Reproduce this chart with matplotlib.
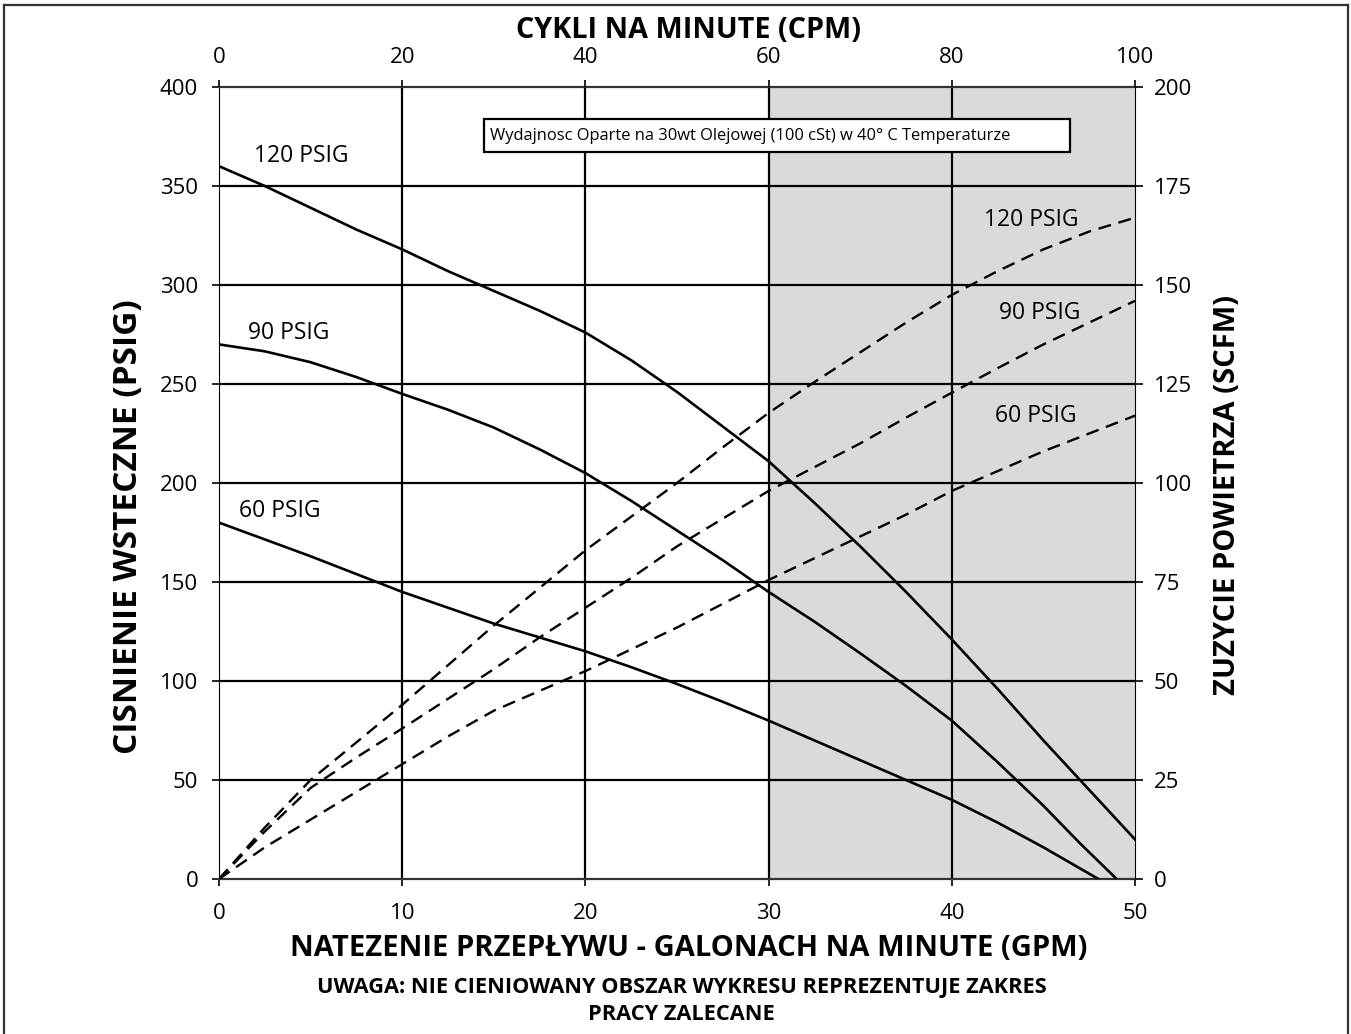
import numpy as np
import matplotlib.pyplot as plt
from matplotlib.patches import Rectangle
from matplotlib.lines import Line2D

plt.rcParams['font.family'] = ['Open Sans', 'DejaVu Sans']

# flow rate (GPM) vs. back pressure (PSIG) for each inlet air pressure
gpm_120 = [0, 2.5, 5, 7.5, 10, 12.5, 15, 17.5, 20, 22.5, 25, 27.5, 30,
           32.5, 35, 37.5, 40, 42.5, 45, 47.5, 50]
psig_120 = [360, 350, 339, 328, 318, 307, 297, 287, 276, 262, 246, 228.5, 211,
            190, 168, 145, 121, 96, 70, 45, 20]
gpm_90 = [0, 2.5, 5, 7.5, 10, 12.5, 15, 17.5, 20, 22.5, 25, 27.5, 30,
          32.5, 35, 37.5, 40, 42.5, 45, 47, 49]
psig_90 = [270, 266.5, 261, 253.5, 245, 237, 228, 217, 205, 191, 176, 161, 145,
           130, 114, 97.5, 80, 59, 37, 18, 0]
gpm_60 = [0, 2.5, 5, 7.5, 10, 12.5, 15, 17.5, 20, 22.5, 25, 27.5, 30,
          32.5, 35, 37.5, 40, 42.5, 45, 46.5, 48]
psig_60 = [180, 171.5, 163, 154, 145, 137, 129, 122, 115, 107, 98.5, 89.5, 80,
           70, 60, 50, 40, 28.5, 16, 8, 0]

# air consumption (SCFM), dashed curves
gpm_air = [0, 2.5, 5, 7.5, 10, 12.5, 15, 17.5, 20, 22.5, 25, 27.5, 30,
           32.5, 35, 37.5, 40, 42.5, 45, 47.5, 50]
scfm_120 = [0, 13, 25, 34.5, 44, 54, 64, 73.5, 83, 91.5, 100, 109, 117.7,
            125.5, 133, 140.5, 147.5, 153.5, 159, 163.5, 167]
scfm_90 = [0, 12, 23, 30.7, 38, 45.5, 53, 61, 68.5, 76, 84, 91, 98,
           104, 110, 116.5, 122.8, 129, 135, 140.5, 146]
scfm_60 = [0, 8, 15, 22, 29, 36, 42.5, 47.5, 52.5, 58, 63.5, 69.5, 75.5,
           81, 86.5, 92, 98, 103, 108, 112.5, 117]

gpm_ticks = [0, 10, 20, 30, 40, 50]
cpm_ticks = [0, 20, 40, 60, 80, 100]
psig_ticks = [0, 50, 100, 150, 200, 250, 300, 350, 400]
scfm_ticks = [0, 25, 50, 75, 100, 125, 150, 175, 200]

fig = plt.figure(figsize=(13.51, 10.34), dpi=100)
ax = fig.add_axes([219/1351, 1 - 879/1034, (1135-219)/1351, (879-87)/1034])

ax.set_xlim(0, 50)
ax.set_ylim(0, 400)
ax.axvspan(30, 50, color='#dadada', zorder=0)

for g in gpm_ticks[1:-1]:
    ax.axvline(g, color='black', lw=1.6, zorder=1)
for p in psig_ticks[1:-1]:
    ax.axhline(p, color='black', lw=1.6, zorder=1)

ax.plot(gpm_120, psig_120, color='black', lw=1.9, zorder=3)
ax.plot(gpm_90, psig_90, color='black', lw=1.9, zorder=3)
ax.plot(gpm_60, psig_60, color='black', lw=1.9, zorder=3)

ax.set_xticks(gpm_ticks)
ax.set_yticks(psig_ticks)
ax.tick_params(direction='out', length=5, width=1.2, labelsize=16)
ax.tick_params(axis='y', pad=10)
ax.tick_params(axis='x', pad=12)
for s in ['left', 'right']:
    ax.spines[s].set_linewidth(0.8)
for s in ['top', 'bottom']:
    ax.spines[s].set_linewidth(1.6)
    ax.spines[s].set_color('#333333')

ax.set_xlabel('NATEZENIE PRZEPŁYWU - GALONACH NA MINUTE (GPM)',
              fontsize=21, fontweight='bold')
ax.xaxis.set_label_coords(0.513, -0.069)
ax.set_ylabel('CISNIENIE WSTECZNE (PSIG)', fontsize=24, fontweight='bold')
ax.yaxis.set_label_coords(-0.081, 0.445)

ax.text(1.9, 365, '120 PSIG', fontsize=16.5, va='center', ha='left')
ax.text(1.6, 276, '90 PSIG', fontsize=16.5, va='center', ha='left')
ax.text(1.1, 186, '60 PSIG', fontsize=16.5, va='center', ha='left')
ax.text(46.9, 333, '120 PSIG', fontsize=16.5, va='center', ha='right')
ax.text(47.0, 286, '90 PSIG', fontsize=16.5, va='center', ha='right')
ax.text(46.8, 234, '60 PSIG', fontsize=16.5, va='center', ha='right')

# test condition note
ax.add_patch(Rectangle((14.47, 367.4), 32.0, 16.2, facecolor='white',
                       edgecolor='black', lw=1.6, zorder=4))
ax.text(14.8, 375.5, 'Wydajnosc Oparte na 30wt Olejowej (100 cSt) w 40° C Temperaturze',
        fontsize=11.9, va='center', ha='left', zorder=5)

# right axis: air consumption
ax_r = ax.twinx()
ax_r.set_ylim(0, 200)
ax_r.set_yticks(scfm_ticks)
dash = (0, (5.5, 3.3))
ax_r.plot(gpm_air, scfm_120, color='black', lw=1.7, ls=dash)
ax_r.plot(gpm_air, scfm_90, color='black', lw=1.7, ls=dash)
ax_r.plot(gpm_air, scfm_60, color='black', lw=1.7, ls=dash)
ax_r.tick_params(direction='out', length=5.5, width=1.2, labelsize=16, pad=8)
ax_r.set_ylabel('ZUZYCIE POWIETRZA (SCFM)', fontsize=21, fontweight='bold')
ax_r.yaxis.set_label_coords(1.085, 0.485)
for s in ax_r.spines.values():
    s.set_visible(False)

# top axis: pump cycles per minute
ax_t = ax.twiny()
ax_t.set_xlim(0, 100)
ax_t.set_xticks(cpm_ticks)
ax_t.tick_params(direction='out', length=5, width=1.2, labelsize=16, pad=9)
ax_t.set_xlabel('CYKLI NA MINUTE (CPM)', fontsize=20.7, fontweight='bold')
ax_t.xaxis.set_label_coords(0.513, 1.062)
for s in ax_t.spines.values():
    s.set_visible(False)

fig.text(0.5044, 1 - 988/1034, 'UWAGA: NIE CIENIOWANY OBSZAR WYKRESU REPREZENTUJE ZAKRES',
         fontsize=15.7, fontweight='bold', ha='center', va='center')
fig.text(0.5044, 1 - 1015/1034, 'PRACY ZALECANE',
         fontsize=15.7, fontweight='bold', ha='center', va='center')

# page border
for xs, ys in [([4, 4], [0, 1029]), ([4, 1348], [1029, 1029]), ([1348, 1348], [1029, 0])]:
    fig.add_artist(Line2D(np.array(xs) / 1351, np.array(ys) / 1034,
                          color='#333333', lw=1.6))

fig.savefig('out.png', dpi=100)
